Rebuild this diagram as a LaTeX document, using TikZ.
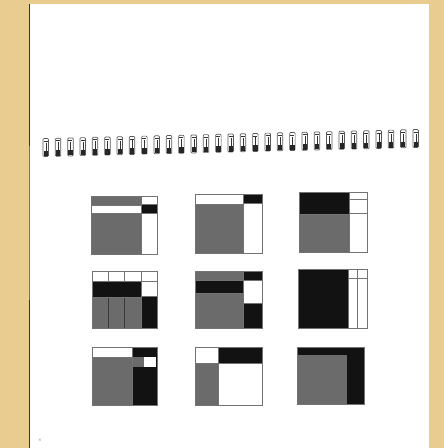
\documentclass[tikz,border=0pt]{standalone}
\begin{document}
\begin{tikzpicture}[x=1pt,y=-1pt,
  edge/.style={draw=black!55,line width=0.8pt},
  darkedge/.style={draw=black!78,line width=0.8pt},
  gfill/.style={fill=black!58},
  bfill/.style={fill=black!93},
  wfill/.style={fill=white},
  ringline/.style={draw=black!65,line width=0.7pt,rounded corners=1pt}]
\useasboundingbox (0,0) rectangle (444,448);
% background
\fill[fill={rgb,255:red,233;green,204;blue,143}] (0,0) rectangle (444,448);
\fill[white] (29,4) rectangle (429,448);
\draw[black!80,line width=0.9pt] (29,4) -- (29,146);
\draw[black!55,line width=0.7pt] (29,146) -- (29,300);
\draw[black!80,line width=0.9pt] (29,300) -- (29,448);
% spiral rings
\foreach \i in {0,...,30}{
  \pgfmathsetmacro{\xx}{43+\i*12.33}
  \pgfmathsetmacro{\yy}{138.5-\i*0.3}
  \draw[ringline] (\xx,\yy) rectangle ({\xx+5.5},{\yy+18});
  \fill[black!85] ({\xx+0.6},{\yy+12}) rectangle ({\xx+4.9},{\yy+17.5});
  \draw[black!80,line width=0.8pt] ({\xx+3.2},{\yy+4}) -- ({\xx+3.2},{\yy+12});
  \draw[black!80,line width=0.8pt] ({\xx+0.8},{\yy+2.5}) -- ({\xx+4.7},{\yy+2.5});
}
% ---------- Row 1 ----------
% box 1
\fill[gfill] (91,196) rectangle (141,205);
\fill[wfill] (91,205) rectangle (141,213);
\fill[gfill] (91,213) rectangle (141,254);
\fill[bfill] (141,204) rectangle (157,213);
\draw[edge] (91,196) rectangle (157,254);
\draw[edge] (141,196) -- (141,254);
\draw[edge] (91,205) -- (141,205) (91,213) -- (157,213) (141,204) -- (157,204);
% box 2
\fill[gfill] (195,204) rectangle (243,253);
\fill[bfill] (243,194) rectangle (262,203);
\draw[edge] (195,194) rectangle (262,253);
\draw[edge] (243,194) -- (243,253) (195,204) -- (243,204) (243,203) -- (262,203);
% box 3
\fill[bfill] (299,192) rectangle (349,214);
\fill[gfill] (299,214) rectangle (349,252);
\draw[edge] (299,192) rectangle (367,252);
\draw[edge] (349,192) -- (349,252) (349,199) -- (367,199) (349,213) -- (367,213) (299,214) -- (349,214);
% ---------- Row 2 ----------
% box 4
\fill[bfill] (92,281) rectangle (141,297);
\fill[gfill] (92,297) rectangle (141,328);
\fill[bfill] (141,296) rectangle (157,328);
\draw[edge] (92,271) rectangle (157,328);
\draw[edge] (108,271) -- (108,281) (124,271) -- (124,281) (141,271) -- (141,328);
\draw[darkedge] (108,297) -- (108,328) (124,297) -- (124,328);
\draw[edge] (92,281) -- (157,281) (92,297) -- (141,297) (141,296) -- (157,296);
% box 5
\fill[gfill] (195,271) rectangle (243,280);
\fill[bfill] (195,280) rectangle (243,293);
\fill[gfill] (195,293) rectangle (243,328);
\fill[bfill] (243,271) rectangle (262,280);
\fill[bfill] (243,303) rectangle (262,328);
\draw[edge] (195,271) rectangle (262,328);
\draw[edge] (243,271) -- (243,328) (195,280) -- (262,280) (195,293) -- (243,293) (243,303) -- (262,303);
% box 6
\fill[bfill] (298,269) rectangle (348,328);
\draw[edge] (298,269) rectangle (367,328);
\draw[edge] (348,269) -- (348,328) (357,269) -- (357,328) (348,278) -- (367,278);
% ---------- Row 3 ----------
% box 7
\fill[gfill] (92,357) rectangle (132,405);
\fill[bfill] (132,347) rectangle (157,405);
\fill[gfill] (132.5,357) rectangle (144,367);
\fill[wfill] (144,357) rectangle (155.5,367);
\draw[edge] (92,347) rectangle (157,405);
\draw[edge] (132,347) -- (132,405) (92,357) -- (132,357);
% box 8
\fill[wfill] (195,347) rectangle (218,363);
\fill[bfill] (218,347) rectangle (262,363);
\fill[gfill] (195,363) rectangle (218,405);
\draw[edge] (195,347) rectangle (262,405);
\draw[edge] (218,347) -- (218,405) (195,363) -- (262,363);
% box 9
\fill[bfill] (297,347) rectangle (364,404);
\fill[gfill] (297,355) rectangle (347,404);
\draw[edge] (297,347) rectangle (364,404);
% page number
\node[text=black!45,font=\fontsize{4}{4}\selectfont,inner sep=0pt] (pnum) at (40,440) {8};
\end{tikzpicture}
\end{document}
